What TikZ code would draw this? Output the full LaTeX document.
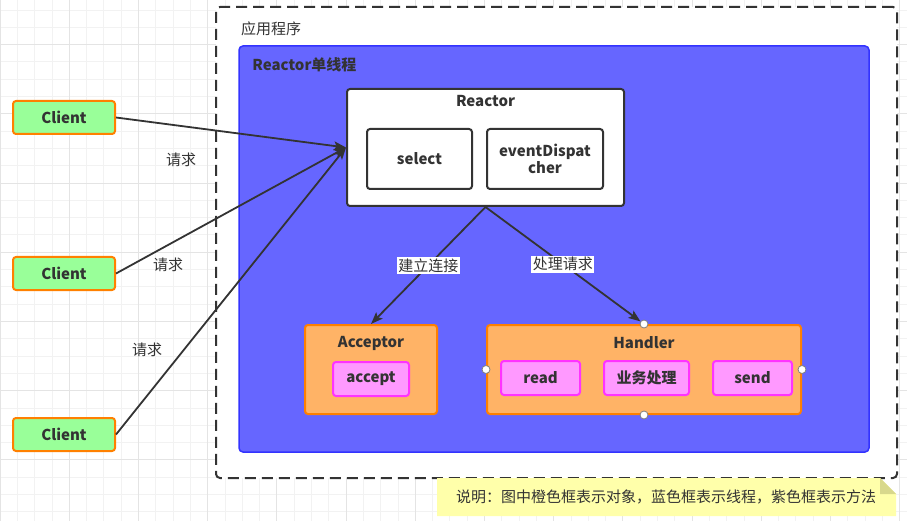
\documentclass[tikz,border=0pt]{standalone}
\usepackage{fontspec}
\setmainfont{Noto Sans CJK SC}
\usepackage{tikz}
\usetikzlibrary{arrows.meta,positioning}

\definecolor{ink}{HTML}{333333}
\definecolor{gridminor}{HTML}{F2F2F2}
\definecolor{gridmajor}{HTML}{E4E4E4}
\definecolor{clientfill}{HTML}{99FF99}
\definecolor{objfill}{HTML}{FFB366}
\definecolor{objline}{HTML}{FF8000}
\definecolor{threadfill}{HTML}{6666FF}
\definecolor{threadline}{HTML}{3333FF}
\definecolor{methodfill}{HTML}{FF99FF}
\definecolor{methodline}{HTML}{FF33FF}
\definecolor{notefill}{HTML}{FFFFAA}
\definecolor{notefold}{HTML}{D8D88C}

\tikzset{
  txt/.style={font=\fontsize{15}{17}\selectfont, text=ink, inner sep=0pt},
  btxt/.style={font=\fontsize{15}{17}\selectfont\bfseries, text=ink, inner sep=0pt},
  client/.style={btxt, draw=objline, line width=2pt, fill=clientfill, rounded corners=3pt,
    minimum width=102pt, minimum height=33pt},
  whitebox/.style={btxt, draw=ink, line width=2pt, fill=white, rounded corners=3pt},
  objbox/.style={draw=objline, line width=2pt, fill=objfill, rounded corners=3pt},
  methodbox/.style={btxt, draw=methodline, line width=2pt, fill=methodfill, rounded corners=3pt,
    minimum height=34pt},
  conn/.style={draw=ink, line width=1.8pt, -{Stealth[length=12pt,width=9pt,inset=2.5pt]}},
  port/.style={circle, draw=gray, fill=white, line width=0.8pt, minimum size=8pt, inner sep=0pt},
  edgelabel/.style={txt, fill=white, inner sep=1.5pt}
}

\begin{document}
\begin{tikzpicture}[x=1pt,y=-1pt]
\useasboundingbox (0,0) rectangle (907,521);
\fill[white] (0,0) rectangle (907,521);
%%%%% background grid:
\foreach \i in {0,...,52}{
  \draw[gridminor, line width=0.8pt] (\i*17.3,0) -- (\i*17.3,521);
}
\foreach \j in {0,...,29}{
  \draw[gridminor, line width=0.8pt] (0,10+\j*17.3) -- (907,10+\j*17.3);
}
\foreach \i in {0,...,13}{
  \draw[gridmajor, line width=0.8pt] (\i*69.2,0) -- (\i*69.2,521);
}
\foreach \j in {0,...,6}{
  \draw[gridmajor, line width=0.8pt] (0,44.6+\j*69.2) -- (907,44.6+\j*69.2);
}

%%%%% containers:
\node[draw=ink, fill=white, line width=2pt, dash pattern=on 11pt off 6pt, rounded corners=4pt,
  minimum width=681pt, minimum height=471pt] (app) at (556.5,242.5) {};
\node[txt, anchor=west] (apptitle) at ([xshift=26pt,yshift=-23pt]app.north west) {应用程序};
\node[draw=threadline, fill=threadfill, line width=1.5pt, rounded corners=4pt,
  minimum width=630pt, minimum height=406pt] (thread) at (554,249) {};
\node[btxt, anchor=west] (threadtitle) at ([xshift=14pt,yshift=-20pt]thread.north west) {Reactor单线程};

%%%%% reactor:
\node[whitebox, minimum width=277pt, minimum height=117pt] (reactor) at (485.5,147.5) {};
\node[btxt, below=7.5pt of reactor.north] (reactortitle) {Reactor};
\node[whitebox, minimum width=105pt, minimum height=60pt] (select) at (419.5,159) {select};
\node[whitebox, minimum width=116pt, minimum height=60pt, align=center] (dispatch) at (545,159) {eventDispat\\cher};

%%%%% acceptor and handler:
\node[objbox, minimum width=132pt, minimum height=89pt] (acceptor) at (371,369.5) {};
\node[btxt, below=12.5pt of acceptor.north] (acceptortitle) {Acceptor};
\node[methodbox, minimum width=76pt] (accept) at (371,379) {accept};
\node[objbox, minimum width=314pt, minimum height=89pt] (handler) at (644,369.5) {};
\node[btxt, below=12.5pt of handler.north] (handlertitle) {Handler};
\node[methodbox, minimum width=79pt] (read) at (540.5,378) {read};
\node[methodbox, minimum width=85pt, right=22pt of read] (logic) {业务处理};
\node[methodbox, minimum width=79pt, right=22pt of logic] (send) {send};
\node[port] (hn) at (handler.north) {};
\node[port] (hs) at (handler.south) {};
\node[port] (hw) at (handler.west) {};
\node[port] (he) at (handler.east) {};

%%%%% clients:
\node[client] (client1) at (64,117.5) {Client};
\node[client] (client2) at (64,273.5) {Client};
\node[client] (client3) at (64,434.5) {Client};
\draw[conn] (client1.east) -- (reactor.west);
\draw[conn] (client2.east) -- (reactor.west);
\draw[conn] (client3.east) -- (reactor.west);
\node[txt] (req1) at (181,160) {请求};
\node[txt] (req2) at (168,265) {请求};
\node[txt] (req3) at (147,350) {请求};

%%%%% dispatch:
\draw[conn] (reactor.south) -- node[edgelabel] (lconn) {建立连接} (acceptor.north);
\draw[conn] (reactor.south) -- node[edgelabel] (lreq) {处理请求} (hn);

%%%%% note:
\fill[notefill] (437,478) -- (880,478) -- (896,494) -- (896,516) -- (437,516) -- cycle;
\fill[notefold] (880,478) -- (880,494) -- (896,494) -- cycle;
\node[txt] (note) at (666,497) {说明：图中橙色框表示对象，蓝色框表示线程，紫色框表示方法};
\end{tikzpicture}
\end{document}
